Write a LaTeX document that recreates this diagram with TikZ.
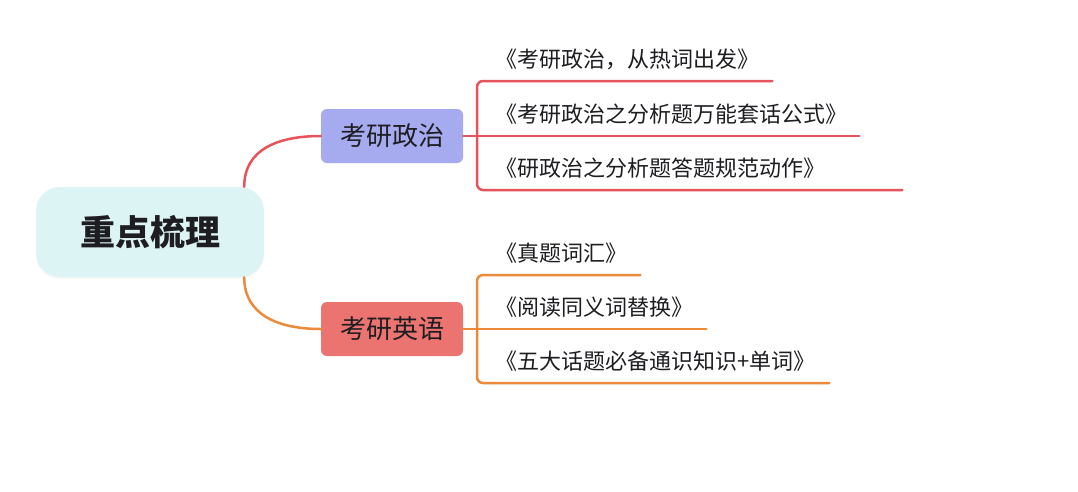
\documentclass[tikz,border=0pt]{standalone}
\usepackage{fontspec}
\usepackage{xcolor}
\usepackage{tikz}
\usetikzlibrary{positioning, calc, shadows}
\newfontfamily\cjk{Noto Sans CJK SC}
\definecolor{rootCyan}{RGB}{221, 244, 245}
\definecolor{polLavender}{RGB}{166, 171, 240}
\definecolor{engSalmon}{RGB}{236, 116, 112}
\definecolor{polRed}{RGB}{232, 82, 90}
\definecolor{engOrange}{RGB}{236, 138, 58}
\definecolor{inkDark}{RGB}{30, 30, 34}

\tikzset{
    rootbox/.style={fill=rootCyan, rounded corners=24pt, minimum width=228pt, minimum height=90pt,
        text=inkDark, font=\cjk\bfseries\fontsize{35}{40}\selectfont,
        drop shadow={opacity=0.06, shadow xshift=0pt, shadow yshift=-2pt}},
    topicbox/.style={rounded corners=6pt, minimum width=142pt, minimum height=54pt,
        text=inkDark, font=\cjk\fontsize{26}{30}\selectfont},
    leaf/.style={inner sep=0pt, text depth=13pt, text width=#1, align=left, anchor=south west,
        text=inkDark, font=\cjk\fontsize{22}{26}\selectfont},
    link/.style={line width=2.5pt, line cap=round}
}

\begin{document}
\begin{tikzpicture}[x=1pt, y=-1pt]
    \useasboundingbox[fill=white] (0,0) rectangle (1078,491);

    % Root
    \node[rootbox] (root) at (150,232) {重点梳理};

    % Topics
    \node[topicbox, fill=polLavender] (pol) at (392,136) {考研政治};
    \node[topicbox, fill=engSalmon] (eng) at (392,329) {考研英语};

    % Leaves: politics
    \node[leaf=277pt] (p1) at (495,81) {《考研政治，从热词出发》};
    \node[leaf=364pt] (p2) at (495,136) {《考研政治之分析题万能套话公式》};
    \node[leaf=407pt] (p3) at (495,190) {《研政治之分析题答题规范动作》};

    % Leaves: english
    \node[leaf=145pt] (e1) at (495,275) {《真题词汇》};
    \node[leaf=211pt] (e2) at (495,329) {《阅读同义词替换》};
    \node[leaf=334pt] (e3) at (495,383) {《五大话题必备通识知识+单词》};

    \coordinate (pj) at (477,136);
    \coordinate (ej) at (477,329);

    % Root to topics
    \draw[link, color=polRed] ($(root.north east)+(-20,0)$) .. controls +(0,-38) and +(-42,0) .. (pol.west);
    \draw[link, color=engOrange] ($(root.south east)+(-20,0)$) .. controls +(0,38) and +(-42,0) .. (eng.west);

    % Topics to leaves
    \draw[link, color=polRed, rounded corners=6pt] (p1.south east) -| (pj) |- (p3.south east);
    \draw[link, color=polRed] (pol.east) -- (p2.south east);
    \draw[link, color=engOrange, rounded corners=6pt] (e1.south east) -| (ej) |- (e3.south east);
    \draw[link, color=engOrange] (eng.east) -- (e2.south east);
\end{tikzpicture}
\end{document}
